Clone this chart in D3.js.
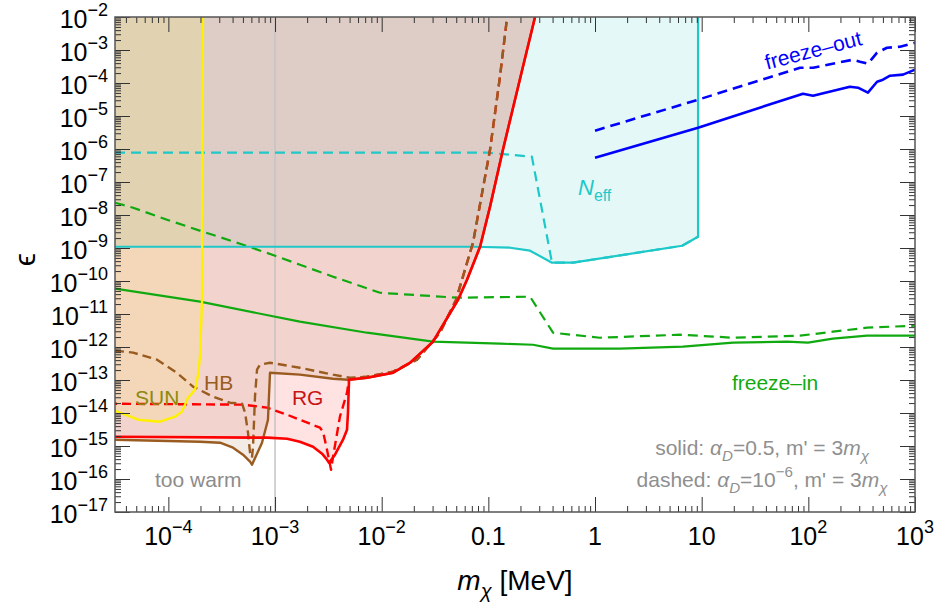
<!DOCTYPE html>
<html>
<head>
<meta charset="utf-8">
<script src="https://cdn.jsdelivr.net/npm/d3@7"></script>
<style>
body { margin: 0; background: #fff; }
text { font-family: "Liberation Sans", Arial, sans-serif; }
</style>
</head>
<body>
<div id="chart"></div>
<script>
// ---- values: [m_chi in MeV, epsilon] ----
var xDomain = [3.16e-5, 1e3]
var yDomain = [1e-17, 1e-2]

var xTicks = [1e-4, 1e-3, 1e-2, 0.1, 1, 10, 1e2, 1e3]
var xTickBase = ["10", "10", "10", "0.1", "1", "10", "10", "10"]
var xTickExp = ["−4", "−3", "−2", "", "", "", "2", "3"]
var yExps = [-2, -3, -4, -5, -6, -7, -8, -9, -10, -11, -12, -13, -14, -15, -16, -17]

var sunBound = [[3.16e-5,1.17e-14],[5.2e-5,6.27e-15],[8.36e-5,5.45e-15],[1.155e-4,7.73e-15],[1.34e-4,1.1e-14],
  [1.53e-4,2.91e-14],[1.78e-4,5.08e-14],[1.9e-4,1.45e-13],[1.98e-4,5.08e-13],[2.07e-4,2.71e-11],[2.11e-4,1e-2]]

var rgSolid = [[3.16e-5,1.91e-15],[8.41e-4,1.79e-15],[1.3e-3,1.66e-15],[1.71e-3,1.35e-15],[2.27e-3,9.53e-16],
  [2.76e-3,5.85e-16],[3.07e-3,3.85e-16],[3.21e-3,3.12e-16],[3.65e-3,5.45e-16],[4.34e-3,1.55e-15],[4.73e-3,3.12e-15],
  [4.83e-3,1.02e-14],[4.94e-3,1.02e-13],[7.29e-3,1.17e-13],[1.28e-2,1.66e-13],[1.85e-2,3.34e-13],[3.03e-2,1.45e-12],
  [5.2e-2,2.71e-11],[6.31e-2,1.09e-10],[8.36e-2,1.09e-9],[0.1037,1.79e-8],[0.137,9.53e-7],[0.211,3.12e-4],[0.274,1e-2]]

var rgDashed = [[3.16e-5,1.91e-14],[5.01e-4,1.79e-14],[8.41e-4,1.45e-14],[1.3e-3,8.87e-15],[2.64e-3,3.59e-15],
  [2.82e-3,2.71e-15],[3.07e-3,7.73e-16],[3.35e-3,1.91e-16],[3.5e-3,4.74e-16],[4.06e-3,7.73e-15],[4.73e-3,4.12e-14],
  [4.94e-3,1.09e-13],[7.29e-3,1.26e-13],[1.28e-2,1.79e-13],[2.14e-2,4.12e-13],[3.52e-2,2.71e-12],[4.98e-2,2.71e-11],
  [7.18e-2,1.45e-9],[0.1037,9.53e-7],[0.1285,1.55e-4],[0.15,1e-2]]

var hbSolid = [[3.16e-5,1.55e-15],[1.98e-4,1.35e-15],[3.05e-4,1.26e-15],[4.04e-4,8.87e-16],[5.01e-4,5.45e-16],
  [5.83e-4,3.34e-16],[6.08e-4,2.71e-16],[7.55e-4,1.26e-15],[8.59e-4,6.27e-15],[8.97e-4,1.66e-13],[1.71e-3,1.45e-13],
  [3.5e-3,1.09e-13],[4.83e-3,1.02e-13],[7.29e-3,1.17e-13],[1.28e-2,1.66e-13],[1.85e-2,3.34e-13],[3.03e-2,1.45e-12],
  [5.2e-2,2.71e-11],[6.31e-2,1.09e-10],[8.36e-2,1.09e-9],[0.1037,1.79e-8],[0.137,9.53e-7],[0.211,3.12e-4],[0.274,1e-2]]

var hbDashed = [[3.16e-5,7.73e-13],[4.67e-5,6.76e-13],[7.83e-5,4.12e-13],[1.2e-4,1.66e-13],[1.7e-4,6.31e-14],
  [2.62e-4,3.12e-14],[3.78e-4,2.05e-14],[4.91e-4,1.91e-14],[5.24e-4,1.02e-14],[5.58e-4,2.53e-15],[5.83e-4,6.27e-16],
  [6.08e-4,4.42e-16],[6.22e-4,9.53e-16],[6.49e-4,3.12e-14],[6.78e-4,2.05e-13],[7.23e-4,2.91e-13],[8.97e-4,3.34e-13],
  [1.71e-3,2.36e-13],[3.5e-3,1.45e-13],[5.05e-3,1.17e-13],[7.29e-3,1.26e-13],[1.28e-2,1.79e-13],[2.14e-2,4.12e-13],
  [3.52e-2,2.71e-12],[4.98e-2,2.71e-11],[7.18e-2,1.45e-9],[0.1037,9.53e-7],[0.1285,1.55e-4],[0.15,1e-2]]

var greenSolid = [[3.16e-5,5.85e-11],[1.98e-4,2.36e-11],[1.71e-3,5.85e-12],[7.29e-3,2.71e-12],[3.03e-2,1.45e-12],
  [0.1285,1.26e-12],[0.262,1.17e-12],[0.404,8.91e-13],[1.71,8.91e-13],[6.68,1.02e-12],[19.7,1.35e-12],[63.1,1.45e-12],
  [99.3,1.35e-12],[170,1.79e-12],[355,2.2e-12],[1000,2.2e-12]]

var greenDashed = [[3.16e-5,2.36e-8],[4.67e-5,1.66e-8],[9.7e-5,7.21e-9],[2.11e-4,3.12e-9],[4.7e-4,1.35e-9],
  [1e-3,5.85e-10],[1.71e-3,3.12e-10],[3.5e-3,1.35e-10],[9.64e-3,4.4e-11],[5.08e-2,3.12e-11],[0.246,3.34e-11],
  [0.404,2.71e-12],[1.11,1.91e-12],[6.27,2.36e-12],[19.7,1.91e-12],[83.6,2.2e-12],[170,2.91e-12],[355,3.85e-12],
  [1000,4.43e-12]]

var cyanSolid = [[3.16e-5,1.09e-9],[7.18e-2,1.09e-9],[0.16,1.02e-9],[0.246,8.28e-10],[0.395,3.59e-10],
  [0.622,3.59e-10],[6.55,1.17e-9],[9.25,2.2e-9],[9.25,1e-2]]

var cyanDashed = [[3.16e-5,7.73e-7],[9.72e-2,7.73e-7],[0.256,5.85e-7],[0.395,3.59e-10],[0.622,3.59e-10],
  [6.55,1.17e-9],[9.25,2.2e-9]]

var blueSolid = [[1,5.45e-7],[9.25,4.42e-6],[89.1,4.74e-5],[110.7,4.12e-5],[245,7.73e-5],[292,7.21e-5],
  [362,5.08e-5],[441,1.09e-4],[501,1.26e-4],[583,1.66e-4],[772,1.79e-4],[1000,2.53e-4]]

var blueDashed = [[1,3.59e-6],[9.25,3.12e-5],[83.6,2.91e-4],[110.7,2.91e-4],[262,5.08e-4],[305,4.42e-4],
  [362,3.85e-4],[441,8.28e-4],[546,1.17e-3],[723,1.26e-3],[1000,1.66e-3]]

// ---- colours ----
var RED = "#ff0000", BROWN = "#9a5b20", GREEN = "#10aa10", CYAN = "#1ec8c8", BLUE = "#0000ff", YELLOW = "#fff000"

var margin = {top: 17, right: 23, bottom: 94, left: 115},
    width = 938 - margin.left - margin.right,
    height = 606 - margin.top - margin.bottom;

var svg = d3.select("#chart").append("svg")
    .attr("width", 938)
    .attr("height", 606)
var g = svg.append("g")
    .attr("transform", "translate(" + margin.left + "," + margin.top + ")")

var x = d3.scaleLog().domain(xDomain).range([0, width])
var y = d3.scaleLog().domain(yDomain).range([height, 0])

svg.append("defs").append("clipPath").attr("id", "clip")
  .append("rect").attr("width", width).attr("height", height)
var plot = g.append("g").attr("clip-path", "url(#clip)")

var line = d3.line().x(d => x(d[0])).y(d => y(d[1]))

// excluded regions: everything above/left of a boundary, closed through the top-left corner
function region(pts, color, op) {
  plot.append("path")
    .attr("d", line([[xDomain[0], yDomain[1]]].concat(pts)) + "Z")
    .attr("fill", color)
    .attr("fill-opacity", op)
    .attr("stroke", "none")
}
region(cyanSolid, CYAN, 0.12)
region(rgSolid, RED, 0.11)
region(hbSolid, "#996633", 0.12)
region(sunBound, "#ffff00", 0.10)

// thin grey line at 1 keV
plot.append("line")
  .attr("x1", x(1e-3)).attr("x2", x(1e-3))
  .attr("y1", 0).attr("y2", height)
  .attr("stroke", "#c4c4c4").attr("stroke-width", 1.5)

function curve(pts, color, w, dash, offset) {
  plot.append("path")
    .attr("d", line(pts))
    .attr("fill", "none")
    .attr("stroke", color)
    .attr("stroke-width", w)
    .attr("stroke-linejoin", "round")
    .attr("stroke-dasharray", dash || null)
    .attr("stroke-dashoffset", offset || null)
}
curve(greenDashed, GREEN, 2.2, "10,6")
curve(greenSolid, GREEN, 2.2)
curve(cyanDashed, CYAN, 2.2, "10,6")
curve(cyanSolid, CYAN, 2.2)
curve(blueDashed, BLUE, 2.6, "10,6")
curve(blueSolid, BLUE, 2.6)
curve(rgDashed, RED, 2.4, "9,5", 7)
curve(hbDashed, BROWN, 2.4, "9,5")
curve(hbSolid, BROWN, 2.4)
curve(rgSolid, RED, 2.6)
curve(sunBound, YELLOW, 2.4)

// ---- frame and ticks (inward, Mathematica style) ----
var xMinor = [], yMinor = []
for (var e = -5; e <= 2; e++) for (var k = 2; k <= 9; k++) {
  var v = k * Math.pow(10, e)
  if (v >= xDomain[0] && v <= xDomain[1]) xMinor.push(v)
}
for (var e = -17; e <= -3; e++) for (var k = 2; k <= 9; k++) yMinor.push(k * Math.pow(10, e))
var yMajor = yExps.map(e => Math.pow(10, e))

function ticks(axisFn, scale, vals, size, shift) {
  g.append("g")
    .attr("transform", shift || null)
    .call(axisFn(scale).tickValues(vals).tickSize(-size).tickFormat(""))
    .call(a => a.select(".domain").remove())
    .selectAll("line").attr("stroke", "#333").attr("stroke-width", 1)
}
ticks(d3.axisBottom, x, xMinor, 6, "translate(0," + height + ")")
ticks(d3.axisBottom, x, xTicks, 15, "translate(0," + height + ")")
ticks(d3.axisTop, x, xMinor, 6)
ticks(d3.axisTop, x, xTicks, 15)
ticks(d3.axisLeft, y, yMinor, 6)
ticks(d3.axisLeft, y, yMajor, 15)
ticks(d3.axisRight, y, yMinor, 6, "translate(" + width + ",0)")
ticks(d3.axisRight, y, yMajor, 15, "translate(" + width + ",0)")

g.append("rect")
  .attr("width", width).attr("height", height)
  .attr("fill", "none").attr("stroke", "#555").attr("stroke-width", 1.5)

// tick labels with superscripts
yExps.forEach(function (e) {
  var t = g.append("text")
    .attr("x", -7).attr("y", y(Math.pow(10, e)) + 11)
    .attr("text-anchor", "end").attr("font-size", 25).attr("fill", "#000")
  t.append("tspan").text("10")
  t.append("tspan").attr("dy", -12).attr("font-size", 18).text("−" + Math.abs(e))
})
xTicks.forEach(function (v, i) {
  var t = g.append("text")
    .attr("x", x(v)).attr("y", height + 33)
    .attr("text-anchor", "middle").attr("font-size", 25).attr("fill", "#000")
  t.append("tspan").text(xTickBase[i])
  if (xTickExp[i]) t.append("tspan").attr("dy", -12).attr("font-size", 18).text(xTickExp[i])
})

// rich text helper: parts = [text, italic?, "sub"|"sup"|null]
function rich(t, parts, size) {
  var shift = 0
  parts.forEach(function (p) {
    var off = p[2] == "sub" ? 0.3 * size : p[2] == "sup" ? -0.45 * size : 0
    t.append("tspan")
      .attr("dy", off - shift)
      .attr("font-size", p[2] ? size * 0.72 : size)
      .attr("font-style", p[1] ? "italic" : null)
      .text(p[0])
    shift = off
  })
  return t
}

// axis titles
rich(g.append("text").attr("x", width / 2).attr("y", height + 78).attr("text-anchor", "middle").attr("fill", "#000"),
  [["m", true], ["χ", true, "sub"], [" [MeV]"]], 28)
g.append("text")
  .attr("transform", "translate(-80," + (height / 2 - 5) + ") rotate(-90)")
  .attr("text-anchor", "middle").attr("font-size", 30).attr("fill", "#000")
  .text("ϵ")

// ---- annotations ----
function label(txt, m, eps, color) {
  return g.append("text").attr("x", x(m)).attr("y", y(eps))
    .attr("font-size", 21).attr("fill", color).text(txt)
}
label("SUN", 4.87e-5, 1.79e-14, "#8a8a10")
label("HB", 2.16e-4, 5.08e-14, BROWN)
label("RG", 1.44e-3, 1.79e-14, "#c81414")
label("too warm", 7.5e-5, 5.85e-17, "#8c8c8c")
label("freeze–in", 19.2, 5.08e-14, GREEN)
g.append("text")
  .attr("transform", "translate(" + x(41) + "," + y(2.53e-4) + ") rotate(-14.6)")
  .attr("font-size", 21).attr("fill", BLUE).text("freeze–out")
rich(g.append("text").attr("x", x(0.693)).attr("y", y(4.12e-8)).attr("fill", CYAN),
  [["N", true], ["eff", false, "sub"]], 22)

rich(g.append("text").attr("x", x(36.8)).attr("y", y(5.45e-16)).attr("text-anchor", "middle").attr("fill", "#8f8f8f"),
  [["solid: "], ["α", true], ["D", true, "sub"], ["=0.5, m' = 3"], ["m", true], ["χ", true, "sub"]], 21)
rich(g.append("text").attr("x", x(36.8)).attr("y", y(5.85e-17)).attr("text-anchor", "middle").attr("fill", "#8f8f8f"),
  [["dashed: "], ["α", true], ["D", true, "sub"], ["=10"], ["−6", false, "sup"], [", m' = 3"], ["m", true], ["χ", true, "sub"]], 21)
</script>
</body>
</html>
